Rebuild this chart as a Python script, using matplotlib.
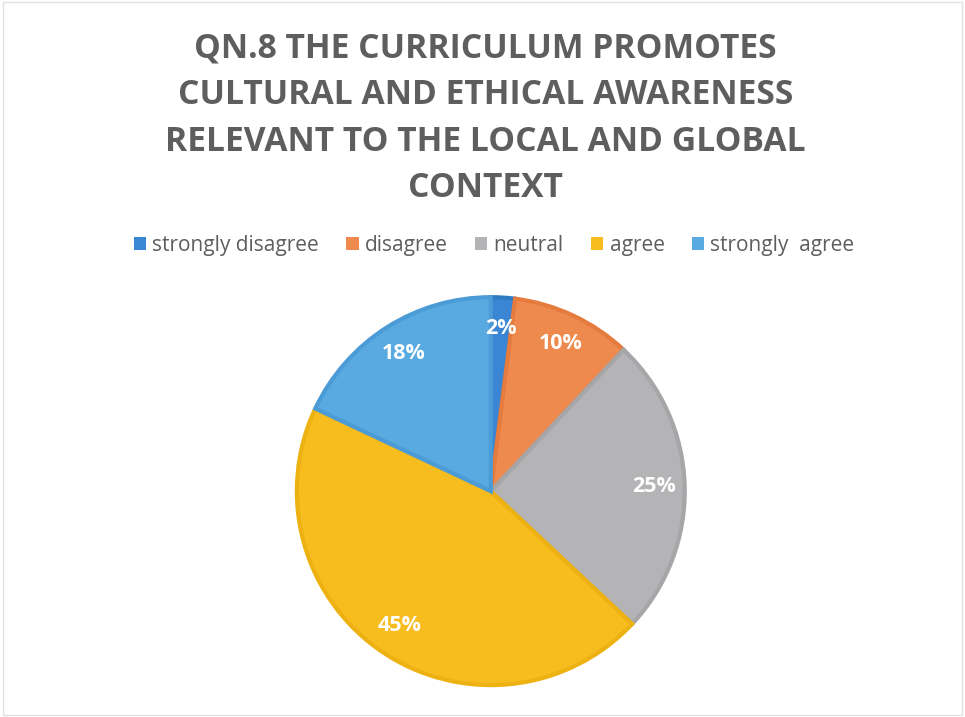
import matplotlib
matplotlib.use("Agg")
import matplotlib.pyplot as plt
from matplotlib.patches import Rectangle
import numpy as np

title = "QN.8 THE CURRICULUM PROMOTES\nCULTURAL AND ETHICAL AWARENESS\nRELEVANT TO THE LOCAL AND GLOBAL\nCONTEXT"
categories = ["strongly disagree", "disagree", "neutral", "agree", "strongly  agree"]
values = [2, 10, 25, 45, 18]
colors = ["#3A86D4", "#EE8A4E", "#B4B4B6", "#F7BC1E", "#5AAAE2"]
edge_colors = ["#2E78C4", "#E57B3C", "#A6A6A8", "#EDB112", "#4A9BD6"]

fig = plt.figure(figsize=(9.65, 7.17), dpi=100)
fig.patch.set_facecolor("white")

fig.text(0.503, 0.835, title, ha="center", va="center", fontsize=24.2, fontweight="bold",
         color="#5E5E5E", family="Open Sans", linespacing=1.48)

ax = fig.add_axes([0.3036, 0.039, 0.41, 0.552])
wedges, texts = ax.pie(values, colors=colors, startangle=90, counterclock=False,
                       wedgeprops=dict(linewidth=3, edgecolor="none"))
for w, ec in zip(wedges, edge_colors):
    w.set_edgecolor(ec)
for w, v in zip(wedges, values):
    ang = np.deg2rad((w.theta1 + w.theta2) / 2)
    r = 0.84
    ax.text(r * np.cos(ang), r * np.sin(ang), f"{v}%", ha="center", va="center",
            fontsize=15.5, fontweight="bold", color="white", family="Open Sans")
ax.set_aspect("equal")
ax.set_xlim(-1.02, 1.02)
ax.set_ylim(-1.02, 1.02)

handles = [Rectangle((0, 0), 1, 1, facecolor=c) for c in colors]
leg = fig.legend(handles, categories, loc="center", bbox_to_anchor=(0.512, 0.658), ncol=5,
                 frameon=False, handlelength=0.6, handleheight=0.6,
                 handletextpad=0.3, columnspacing=1.3, prop=dict(family="Open Sans", size=15))
for t in leg.get_texts():
    t.set_color("#5E5E5E")

fig.add_artist(Rectangle((0.003, 0.003), 0.994, 0.994, transform=fig.transFigure,
                         fill=False, edgecolor="#E2E2E2", linewidth=1))

fig.savefig("out.png", dpi=100, facecolor="white")
